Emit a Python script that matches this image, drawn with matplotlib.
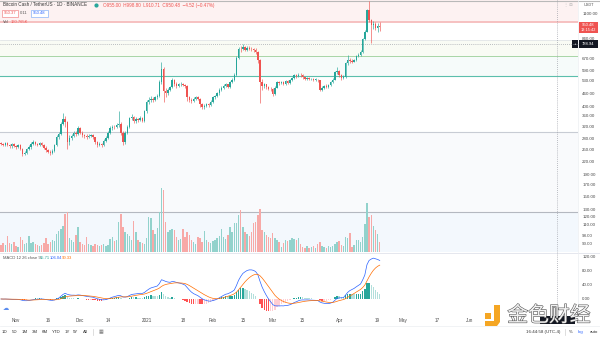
import matplotlib
matplotlib.use("Agg")
import matplotlib.pyplot as plt
import matplotlib.dates as mdates
import matplotlib.lines as mlines
import matplotlib.patheffects as pe
from matplotlib.patches import Rectangle, Polygon
from matplotlib.ticker import FixedLocator, FixedFormatter, NullLocator
import numpy as np
import pandas as pd

plt.rcParams['font.family'] = ['Liberation Sans', 'DejaVu Sans']

# ---------------- data ----------------
start_date = "2020-10-25"
first_open = 268.0
closes = [266, 262, 268, 262, 258, 264, 260, 257, 262, 252,
          238, 241, 250, 256, 265, 270, 266, 262, 268, 262,
          255, 248, 244, 240, 246, 262, 285, 296, 330, 348,
          338, 270, 284, 290, 300, 296, 316, 300, 292, 288,
          286, 290, 292, 285, 270, 262, 266, 262, 275, 284,
          300, 316, 320, 318, 325, 330, 300, 270, 300, 320,
          350, 357, 340, 348, 345, 352, 342, 380, 420, 430,
          435, 428, 440, 446, 520, 600, 470, 464, 479, 492,
          535, 512, 500, 507, 512, 505, 498, 440, 430, 425,
          432, 440, 435, 410, 398, 402, 410, 405, 420, 440,
          446, 460, 480, 490, 500, 507, 495, 520, 535, 560,
          680, 750, 745, 760, 740, 755, 750, 745, 740, 720,
          660, 520, 500, 507, 495, 485, 481, 455, 490, 520,
          515, 520, 510, 525, 515, 530, 545, 560, 555, 565,
          560, 548, 540, 545, 538, 540, 535, 535, 530, 480,
          490, 500, 495, 505, 520, 535, 580, 590, 560, 546,
          550, 640, 664, 655, 650, 660, 690, 700, 720, 830,
          900, 1140, 1020, 965, 975, 940, 955, 950.48]
highs = [272, 269, 272, 271, 265, 267, 268, 263, 266, 264,
         255, 246, 254, 262, 270, 276, 274, 269, 272, 270,
         264, 259, 252, 247, 250, 266, 292, 303, 338, 372,
         358, 342, 292, 296, 306, 304, 322, 318, 304, 296,
         294, 295, 297, 294, 287, 274, 270, 269, 279, 289,
         304, 321, 326, 325, 332, 378, 336, 304, 306, 326,
         356, 366, 360, 354, 352, 358, 356, 386, 428, 440,
         448, 442, 446, 456, 530, 645, 612, 490, 486, 500,
         545, 540, 520, 515, 520, 518, 510, 502, 448, 438,
         440, 446, 446, 438, 414, 408, 416, 414, 426, 446,
         452, 468, 488, 498, 510, 516, 512, 528, 544, 572,
         695, 765, 770, 790, 772, 768, 770, 762, 758, 752,
         728, 668, 540, 518, 512, 500, 492, 486, 496, 526,
         528, 526, 524, 532, 530, 536, 552, 568, 566, 575,
         572, 566, 552, 552, 550, 546, 546, 542, 540, 534,
         498, 506, 508, 512, 526, 542, 588, 612, 596, 566,
         560, 650, 700, 680, 668, 672, 698, 715, 740, 845,
         915, 1160, 1260, 1040, 1010, 1000, 990, 998.8]
lows = [262, 258, 260, 259, 254, 255, 256, 252, 254, 247,
        232, 234, 238, 247, 252, 262, 261, 258, 259, 258,
        250, 244, 239, 235, 237, 244, 259, 280, 292, 325,
        318, 250, 262, 278, 285, 290, 292, 294, 287, 283,
        280, 282, 286, 280, 265, 257, 258, 256, 259, 272,
        281, 297, 310, 312, 314, 320, 292, 262, 266, 296,
        316, 344, 332, 334, 338, 340, 336, 338, 372, 408,
        420, 418, 424, 432, 440, 512, 420, 440, 452, 470,
        488, 500, 490, 494, 500, 498, 490, 425, 420, 414,
        418, 426, 428, 398, 388, 390, 396, 398, 400, 416,
        434, 440, 454, 472, 482, 494, 488, 490, 514, 528,
        555, 670, 725, 735, 728, 730, 738, 732, 725, 705,
        640, 415, 480, 488, 485, 475, 470, 446, 450, 486,
        506, 508, 502, 505, 508, 510, 524, 540, 546, 550,
        552, 540, 532, 534, 530, 532, 528, 526, 520, 470,
        472, 484, 488, 490, 500, 515, 530, 570, 548, 530,
        540, 545, 630, 640, 638, 645, 652, 682, 692, 715,
        820, 895, 1000, 800, 930, 920, 900, 910.71]
volume_k = [px * 16 for px in [
    7, 9, 7, 16, 9, 8, 10, 6, 5, 15,
    12, 8, 9, 16, 9, 10, 8, 7, 6, 7,
    9, 14, 8, 10, 12, 11, 18, 21, 23, 26,
    38, 40, 14, 12, 10, 17, 25, 10, 8, 7,
    15, 8, 7, 6, 8, 7, 6, 7, 8, 6,
    7, 13, 15, 11, 12, 30, 38, 25, 20, 18,
    16, 12, 31, 20, 12, 10, 9, 8, 14, 35,
    34, 22, 18, 24, 40, 64, 62, 30, 20, 22,
    23, 22, 15, 12, 13, 23, 15, 20, 17, 12,
    10, 8, 15, 14, 10, 21, 12, 10, 9, 11,
    12, 14, 16, 23, 15, 13, 17, 25, 20, 29,
    29, 37, 42, 25, 20, 18, 16, 20, 29, 30,
    37, 43, 22, 20, 17, 15, 14, 19, 14, 12,
    10, 5, 9, 12, 11, 12, 14, 13, 12, 14,
    8, 5, 4, 6, 4, 5, 6, 4, 8, 10,
    6, 5, 4, 6, 5, 6, 8, 10, 11, 7,
    6, 15, 14, 19, 5, 7, 12, 12, 10, 15,
    28, 49, 35, 37, 26, 22, 18, 10]]

price_ticks = [1100, 840, 670, 590, 530, 460, 400, 360, 320, 280,
               250, 220, 190, 170, 150, 130, 120, 110, 98, 90]
macd_ticks = [120, 80, 40, 0]
date_tick_dates = ["2020-11-01", "2020-11-16", "2020-12-01", "2020-12-14",
                   "2021-01-01", "2021-01-18", "2021-02-01", "2021-02-15",
                   "2021-03-01", "2021-03-15", "2021-04-01", "2021-04-19",
                   "2021-05-01", "2021-05-17", "2021-06-01", "2021-06-14"]
date_tick_labels = ["Nov", "16", "Dec", "14", "2021", "18", "Feb", "15",
                    "Mar", "15", "Apr", "19", "May", "17", "Jun", "14"]
# user-drawn horizontal levels
level_top = 1000.0
level_a = 825.0
level_b = 693.0
level_c = 559.0
level_d = 303.0
level_vol = 126.0

# ---------------- styling ----------------
W, H = 600, 337
GREEN = "#26a69a"
RED = "#ef5350"
VGREEN = "#92d2cc"
VRED = "#f7a9a7"
TXT = "#4a4a4a"

fig = plt.figure(figsize=(6, 3.37), dpi=100)
fig.patch.set_facecolor("white")


def fx(px):
    return px / W


def fy(py):
    return 1 - py / H


def fline(xs, ys, **kw):
    fig.add_artist(mlines.Line2D([fx(v) for v in xs], [fy(v) for v in ys],
                                 transform=fig.transFigure, **kw))


def fbox(x0, y0, x1, y1, **kw):
    fig.add_artist(Rectangle((fx(x0), fy(y1)), fx(x1) - fx(x0), fy(y0) - fy(y1),
                             transform=fig.transFigure, **kw))


def ftext(x, y, s, **kw):
    kw.setdefault("va", "center")
    kw.setdefault("fontsize", 3.3)
    fig.text(fx(x), fy(y), s, **kw)


CHART_R = 578
dates = pd.date_range(start_date, periods=len(closes), freq="D")
x = mdates.date2num(dates)
x0 = mdates.date2num(pd.Timestamp(start_date))
xlim = (x0 - 1 / 2.14, x0 + (CHART_R - 1) / 2.14)
main_rect = [0, fy(252), fx(CHART_R), 252 / H]
YLIM = (81.7, 1273)

# ---------------- background drawings (behind everything) ----------------
bg = fig.add_axes(main_rect, zorder=-5)
bg.set_yscale("log")
bg.set_ylim(*YLIM)
bg.set_xlim(*xlim)
bg.axis("off")
bg.axhspan(level_top, 5000, color="#fdf2f2", lw=0)
bg.axhspan(level_b, level_a, color="#f9fbf4", lw=0)
bg.axhspan(level_c, level_b, color="#f6fbfa", lw=0)
bg.axhspan(level_vol, level_d, color="#f9fafc", lw=0)
bg.axhspan(10, level_vol, color="#f3f8fd", lw=0)
bg.axhline(level_top, color="#f6bcbc", lw=1.3)
bg.axhline(level_a, color="#dde0e5", lw=0.5)
bg.axhline(level_b, color="#a8d5a6", lw=0.7)
bg.axhline(level_c, color="#5cbfac", lw=0.8)
bg.axhline(level_d, color="#c8ccd4", lw=0.8)
bg.axhline(level_vol, color="#b4b8c0", lw=0.8)

# ---------------- main price pane ----------------
ax = fig.add_axes(main_rect, zorder=2)
ax.set_yscale("log")
ax.set_ylim(*YLIM)
ax.set_xlim(*xlim)
ax.patch.set_visible(False)
for s in ax.spines.values():
    s.set_visible(False)

opens = [first_open] + closes[:-1]
o = np.array(opens, float)
c = np.array(closes, float)
h = np.array(highs, float)
l = np.array(lows, float)
up = c >= o
cols = np.where(up, GREEN, RED)

# volume (bottom of price pane)
vax = fig.add_axes(main_rect, zorder=1)
vax.set_ylim(0, 252 * 16)
vax.set_xlim(*xlim)
vax.patch.set_visible(False)
vcols = np.where(up, VGREEN, VRED)
vax.bar(x, volume_k, width=0.66, color=vcols, lw=0)
vax.axis("off")

ax.vlines(x, l, h, colors=cols, lw=0.45, zorder=3)
body_h = np.maximum(np.abs(c - o), np.minimum(o, c) * 0.004)
ax.bar(x, body_h, bottom=np.minimum(o, c), width=0.66, color=cols, lw=0, zorder=4)

ax.yaxis.tick_right()
ax.yaxis.set_major_locator(FixedLocator(price_ticks))
ax.yaxis.set_major_formatter(FixedFormatter([f"{v:.2f}" for v in price_ticks]))
ax.yaxis.set_minor_locator(NullLocator())
ax.tick_params(axis="y", length=0, pad=3.0, labelsize=3.2, labelcolor=TXT)
ax.set_xticks([])

# ---------------- MACD pane ----------------
mx = fig.add_axes([0, fy(314), fx(CHART_R), 61 / H])
mx.set_xlim(*xlim)
mx.set_ylim(-42.9, 131.4)
mx.patch.set_visible(False)
for s in mx.spines.values():
    s.set_visible(False)
cs = pd.Series(closes, dtype=float)
ema_fast = cs.ewm(span=12, adjust=False).mean()
ema_slow = cs.ewm(span=26, adjust=False).mean()
macd = ema_fast - ema_slow
signal = macd.ewm(span=9, adjust=False).mean()
hist = (macd - signal).values
prev = np.concatenate([[0.0], hist[:-1]])
hcols = np.where(hist >= 0,
                 np.where(hist >= prev, "#26a69a", "#b2dfdb"),
                 np.where(hist < prev, "#ff5252", "#ffcdd2"))
mx.bar(x, hist, width=0.66, color=hcols, lw=0)
mx.plot(x, macd.values, color="#2962ff", lw=0.5)
mx.plot(x, signal.values, color="#ff6d00", lw=0.5)
mx.yaxis.tick_right()
mx.set_yticks(macd_ticks)
mx.set_yticklabels([f"{v:.2f}" for v in macd_ticks])
mx.tick_params(axis="y", length=0, pad=3.0, labelsize=3.2, labelcolor=TXT)
tick_x = mdates.date2num(pd.to_datetime(date_tick_dates))
mx.set_xticks(tick_x)
mx.set_xticklabels(date_tick_labels)
mx.tick_params(axis="x", length=0, pad=2.6, labelsize=3.3, labelcolor=TXT)

# ---------------- frame lines ----------------
fline([0, 600], [0.5, 0.5], color="#b9b9b9", lw=0.8)
fline([0, 600], [252.5, 252.5], color="#e0e3eb", lw=0.6)
fline([CHART_R, CHART_R], [0, 314], color="#eceef2", lw=0.5)
fline([0, 600], [325.5, 325.5], color="#eceef2", lw=0.5)
# crosshair
fline([557, 557], [0, 314], color="#9598a1", lw=0.5, ls=(0, (1.2, 1.8)))
fline([0, CHART_R], [44, 44], color="#9598a1", lw=0.5, ls=(0, (1.2, 1.8)))

# ---------------- header ----------------
ftext(3, 5, "Bitcoin Cash / TetherUS · 1D · BINANCE", color="#333333")
fig.add_artist(mlines.Line2D([fx(96)], [fy(5)], marker="o", ms=2.0, color="#26a69a",
                             transform=fig.transFigure))
ftext(103, 5, "O955.00  H998.80  L910.71  C950.48  −4.52 (−0.47%)", color=RED)
fbox(2, 10, 18, 16.5, facecolor="white", edgecolor="#f28b8b", lw=0.5)
ftext(10, 13.3, "950.37", color=RED, ha="center", fontsize=3.0)
ftext(24, 13.3, "0.11", color="#555555", ha="center", fontsize=3.0)
fbox(31, 10, 48, 16.5, facecolor="white", edgecolor="#8ab4f8", lw=0.5)
ftext(39.5, 13.3, "950.48", color="#2962ff", ha="center", fontsize=3.0)
ftext(3, 22, "Vol", color="#555555", fontsize=3.0)
ftext(11, 22, "160.765K", color=RED, fontsize=3.0)

ftext(3, 258, "MACD 12 26 close 9", color="#555555", fontsize=3.0)
ftext(40, 258, "15.71", color="#26a69a", fontsize=3.0)
ftext(50, 258, "106.04", color="#2962ff", fontsize=3.0)
ftext(62, 258, "90.33", color="#ff6d00", fontsize=3.0)

# price scale extras
ftext(589, 4.5, "USDT", color="#555555", ha="center", fontsize=2.8)
ftext(568, 4.5, "⋮ ⊟", color="#b0b0b0", ha="center", fontsize=3.0)
fbox(579, 21.5, 598, 33, facecolor="#ef5350", edgecolor="none")
ftext(588.5, 24.8, "950.48", color="white", ha="center", fontsize=3.0)
ftext(588.5, 30.0, "13:15:42", color="white", ha="center", fontsize=2.8)
fbox(572, 40.5, 578, 47.5, facecolor="#131722", edgecolor="none")
ftext(575, 44, "+", color="white", ha="center", fontsize=3.0)
fbox(579, 40.5, 598, 47.5, facecolor="#131722", edgecolor="none")
ftext(588.5, 44, "788.94", color="white", ha="center", fontsize=3.0)

# ---------------- bottom toolbar ----------------
ftext(6, 308, "☁", color="#5b8def", ha="center", fontsize=4.5,
      family=["DejaVu Sans"])
for lab, px in zip(["1D", "5D", "1M", "3M", "6M", "YTD", "1Y", "5Y", "All"],
                   [5, 15, 25, 35, 45, 56, 67, 76, 85]):
    ftext(px, 332, lab, color="#333333", ha="center", fontsize=3.2)
fline([93, 93], [329, 335], color="#d0d0d0", lw=0.5)
ftext(101, 332, "▦", color="#777777", ha="center", fontsize=3.5,
      family=["DejaVu Sans"])
ftext(543, 332, "16:44:58 (UTC-4)", color="#333333", ha="center", fontsize=3.2)
fline([565, 565], [329, 335], color="#d0d0d0", lw=0.5)
ftext(571, 332, "%", color="#333333", ha="center", fontsize=3.2)
ftext(581, 332, "log", color="#2962ff", ha="center", fontsize=3.2)
ftext(594, 332, "auto", color="#333333", ha="center", fontsize=3.2)

# crosshair time label (mostly under the watermark)
fbox(540, 316, 575, 324, facecolor="#131722", edgecolor="none", zorder=1)

# ---------------- watermark ----------------
orange = "#f5a623"
fig.add_artist(Rectangle((fx(485), fy(318.5)), fx(6), 5.5 / H, transform=fig.transFigure,
                         facecolor=orange, edgecolor="none", zorder=5))
fig.add_artist(Polygon([[fx(494), fy(305)], [fx(500), fy(305)], [fx(500), fy(322)],
                        [fx(497), fy(326)], [fx(485), fy(326)], [fx(485), fy(321)],
                        [fx(494), fy(321)]], closed=True, transform=fig.transFigure,
                       facecolor=orange, edgecolor="none", zorder=5))
fig.text(fx(549), fy(315.5), "金色财经", ha="center", va="center", fontsize=15,
         color="#f2f2f2", family=["Noto Sans CJK SC", "DejaVu Sans"], zorder=6,
         path_effects=[pe.withStroke(linewidth=0.8, foreground="#555555")])

fig.savefig("out.png", dpi=100)
